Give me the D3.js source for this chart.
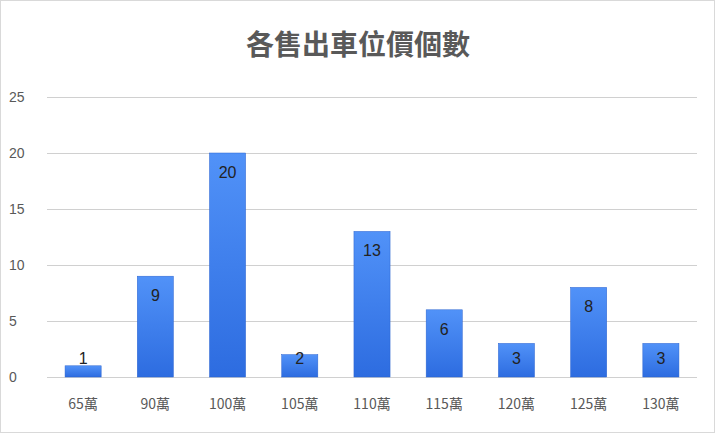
<!DOCTYPE html>
<html><head><meta charset="utf-8">
<script src="https://cdn.jsdelivr.net/npm/d3@7"></script>
<style>body{margin:0;background:#fff}svg{display:block}</style></head>
<body><svg id="c" width="715" height="433"></svg>
<script>
const categories=["65萬","90萬","100萬","105萬","110萬","115萬","120萬","125萬","130萬"];
const values=[1,9,20,2,13,6,3,8,3];
const yTicks=[0,5,10,15,20,25];
const title="各售出車位價個數";

const svg=d3.select("#c");
svg.append("rect").attr("x",0.5).attr("y",0.5).attr("width",714).attr("height",432).attr("fill","#fff").attr("stroke","#d9d9d9");
const defs=svg.append("defs");
const g=defs.append("linearGradient").attr("id","bg").attr("x1",0).attr("y1",0).attr("x2",0).attr("y2",1);
g.append("stop").attr("offset","0%").attr("stop-color","#5192f8");
g.append("stop").attr("offset","100%").attr("stop-color","#2d6ce0");
const x=d3.scaleBand().domain(categories).range([47,697]).paddingInner(0.5).paddingOuter(0.25);
const y=d3.scaleLinear().domain([0,25]).range([377,97]);
svg.append("text").attr("x",358).attr("y",55).attr("text-anchor","middle").attr("font-family","Noto Sans CJK TC").attr("font-size",28).attr("font-weight","bold").attr("fill","#595959").text(title);
const ga=svg.append("g").attr("transform","translate(47,0)").call(d3.axisLeft(y).tickValues(yTicks).tickSize(-650).tickPadding(14));
ga.select(".domain").remove();
ga.selectAll("line").attr("stroke","#d0d0d0").attr("stroke-width",1);
ga.selectAll("text").attr("fill","#595959").attr("font-size",14).attr("font-family","Liberation Sans").attr("text-anchor","start").attr("x",-38);
const gx=svg.append("g").attr("transform","translate(0,377)").call(d3.axisBottom(x).tickSize(0).tickPadding(22));
gx.select(".domain").remove();
gx.selectAll("text").attr("fill","#595959").attr("font-size",14).attr("font-family","Noto Sans CJK TC");
svg.selectAll(".bar").data(values).join("rect").attr("x",(d,i)=>x(categories[i])).attr("y",d=>y(d)).attr("width",x.bandwidth()).attr("height",d=>y(0)-y(d)).attr("fill","url(#bg)").attr("stroke","#2a63cf").attr("stroke-width",0.5);
svg.selectAll(".lbl").data(values).join("text").attr("x",(d,i)=>x(categories[i])+x.bandwidth()/2).attr("y",d=>Math.min(y(d)+25,y(0)-13)).attr("text-anchor","middle").attr("font-family","Liberation Sans").attr("font-size",16).attr("fill","#222").text(d=>d);
</script></body></html>
